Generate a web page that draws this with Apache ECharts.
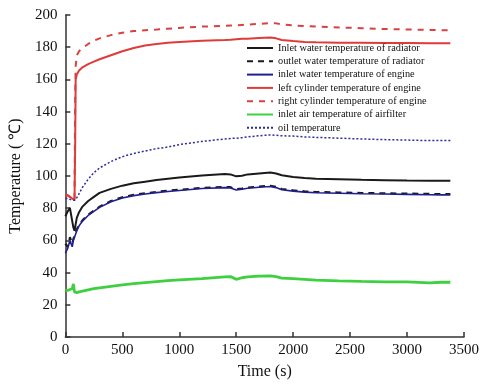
<!DOCTYPE html>
<html><head><meta charset="utf-8">
<script src="https://cdn.jsdelivr.net/npm/echarts@6/dist/echarts.min.js"></script>
<style>html,body{margin:0;padding:0;background:#fff}#c{width:482px;height:385px}</style>
</head><body><div id="c"></div>
<script>
const time = [0,20,40,60,70,80,86,90,100,120,150,200,250,300,400,500,600,700,800,900,1000,1200,1400,1450,1500,1550,1600,1700,1800,1850,1900,2000,2100,2200,2400,2600,2800,3000,3200,3300,3380];
const inletRadiator = [75,78,80,72,68,66,67,70,74,77.5,81,84.5,87,89.5,92,94,95.5,96.5,97.5,98.3,99,100.3,101.2,101,99.8,100.2,101,101.6,102.2,101.6,100.5,99.4,98.7,98.3,98,97.6,97.4,97.2,97.1,97,97];
const outletRadiator = [58,56,62,58,61,63,64,65,67,69.5,72.5,76,78.5,81,84.5,86.8,88.3,89.3,90.2,90.9,91.5,92.7,93.3,93.1,91.8,92.3,92.9,93.5,94,93.3,92,91.1,90.5,90.1,89.8,89.5,89.3,89.1,88.9,88.8,88.8];
const inletEngine = [52,55,60,56,60,62,63,64,66,69,72,75.5,78,80.5,84,86.3,87.8,88.8,89.7,90.4,91,92.2,92.8,92.6,91.3,91.8,92.4,93,93.5,92.8,91.5,90.6,90,89.6,89.3,89,88.8,88.6,88.4,88.3,88.3];
const leftCylinder = [88,88,87,86,85.5,85,120,160,163,165.5,167.5,169.5,171,172.5,175,177.5,179.5,181,182,182.8,183.3,184,184.5,184.7,185,185.2,185.3,185.7,186,185.5,184.5,183.8,183.3,183,182.8,182.7,182.6,182.6,182.5,182.5,182.5];
const rightCylinder = [88,88,87,86,85.5,85,150,168,175,177.5,179.5,182,184,185.5,187.5,189,190,190.6,191,191.5,192,192.8,193.3,193.5,193.6,193.8,194,194.5,195,194.8,194.2,193.5,193.1,192.8,192.3,191.8,191.3,191,190.7,190.6,190.5];
const inletAir = [29,29,29.5,30,33,28,27.5,27.3,27.5,28,28.5,29.3,30,30.5,31.5,32.4,33.2,33.8,34.4,35,35.5,36.3,37.3,37.5,35.8,36.8,37.3,37.8,38,37.5,36.6,36.2,35.8,35.3,34.8,34.5,34.3,34.2,33.6,34,34];
const oilTemp = [86,86,85.5,85,85,85,85,85.5,86.5,89,93,98,102,105,109,112,114,115.5,117,118,119.5,121.5,123,123.3,123.5,123.8,124.3,125,125.5,125.3,125,124.8,124.3,124,123.5,123,122.6,122.3,122,122,122];
const names = ['Inlet water temperature of radiator','outlet water temperature of radiator','inlet water temperature of engine','left cylinder temperature of engine','right cylinder temperature of engine','inlet air temperature of airfilter','oil temperature'];

const pair = arr => time.map((t,i)=>[t,arr[i]]);
const font = 'Liberation Serif';
function s(name, arr, color, width, type, z){
  return {name, type:'line', data:pair(arr), symbol:'none', showSymbol:false, z:z||2,
    lineStyle:{color, width, type:type||'solid'}, itemStyle:{color}};
}
const chart = echarts.init(document.getElementById('c'), null, {renderer:'canvas'});
chart.setOption({
  animation:false,
  backgroundColor:'#fff',
  grid:{left:60,top:15,right:17,bottom:44},
  legend:{orient:'vertical', left:246, top:43, padding:0, itemWidth:26, itemHeight:10, itemGap:3.3,
    itemStyle:{opacity:0, borderWidth:0},
    textStyle:{fontFamily:font, fontSize:10.3, color:'#111'}, data:names},
  xAxis:{type:'value', min:0, max:3500, interval:500, name:'Time (s)', nameLocation:'middle', nameGap:27,
    nameTextStyle:{fontFamily:font, fontSize:16, color:'#111'},
    axisLine:{lineStyle:{color:'#333', width:1.5}},
    axisTick:{inside:true, length:5, lineStyle:{color:'#333', width:1.5}},
    axisLabel:{fontFamily:font, fontSize:15, color:'#111', margin:6, formatter:v=>String(v)},
    splitLine:{show:false}},
  yAxis:{type:'value', min:0, max:200, interval:20, name:'Temperature ( ℃)', nameLocation:'middle', nameGap:36,
    nameTextStyle:{fontFamily:font, fontSize:16, color:'#111'},
    axisLine:{show:true, lineStyle:{color:'#333', width:1.5}},
    axisTick:{show:true, inside:true, length:5, lineStyle:{color:'#333', width:1.5}},
    axisLabel:{fontFamily:font, fontSize:15, color:'#111', margin:8, formatter:v=>String(v)},
    splitLine:{show:false}},
  series:[
    s(names[0], inletRadiator, '#1a1a1a', 2),
    s(names[1], outletRadiator, '#1a1a1a', 2, [6,5]),
    s(names[2], inletEngine, '#1f1f8f', 1.6),
    s(names[3], leftCylinder, '#e03a3a', 2),
    s(names[4], rightCylinder, '#d94040', 2, [6,6]),
    s(names[5], inletAir, '#3fd03f', 2.8),
    s(names[6], oilTemp, '#2c2c9c', 1.5, [2,2])
  ]
});
</script></body></html>
